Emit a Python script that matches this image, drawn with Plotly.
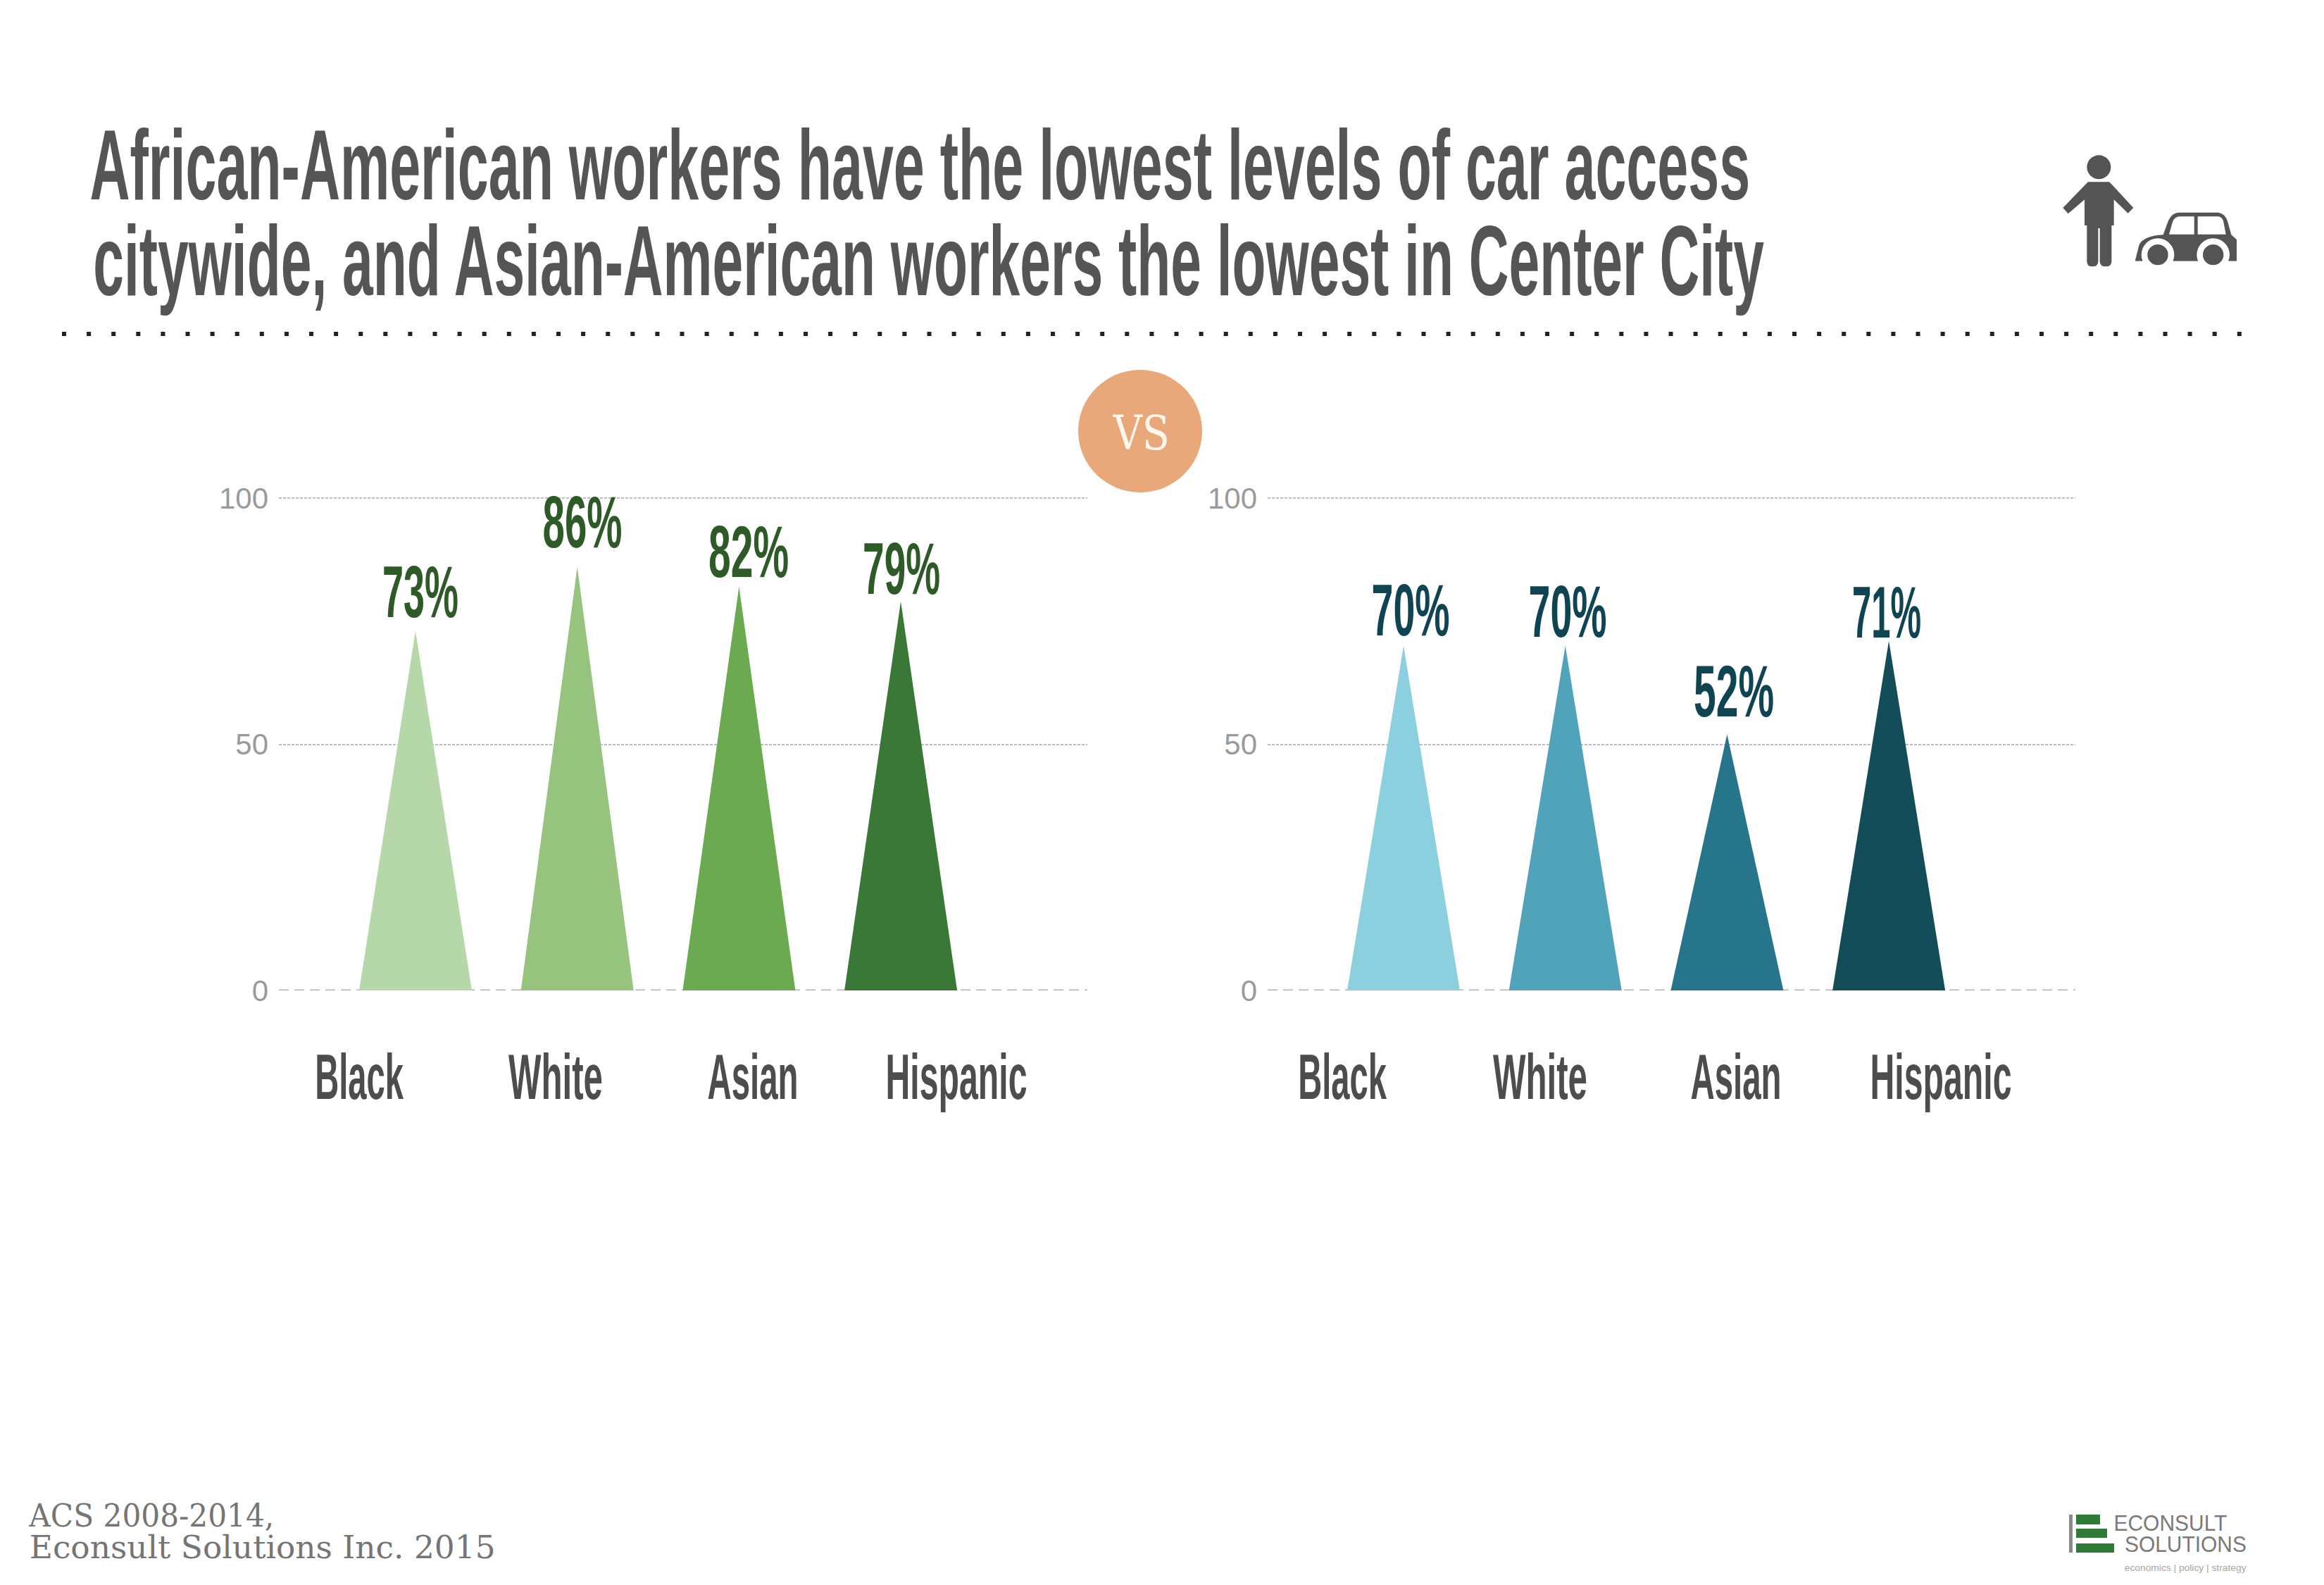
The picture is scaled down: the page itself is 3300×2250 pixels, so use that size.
import json
import plotly.graph_objects as go

W, H = 3300, 2250
categories = ["Black", "White", "Asian", "Hispanic"]
citywide = [73, 86, 82, 79]
center_city = [70, 70, 52, 71]
y_ticks = [0, 50, 100]
green_fills = ["#B6D7A8", "#96C47F", "#6BAA50", "#3A7837"]
teal_fills = ["#8CD0E0", "#50A3B8", "#26758A", "#134D59"]
green_text = "#2E5A27"
teal_text = "#0F4552"
title_lines = ["African-American workers have the lowest levels of car access",
               "citywide, and Asian-American workers the lowest in Center City"]
source_lines = ["ACS 2008-2014,", "Econsult Solutions Inc. 2015"]

# layout in reference pixels
SLOT = 229.7
BAR_W = 160 / SLOT
Y0, Y100 = 1406, 707
YMAX = 102
TOP_DOM = 1 - (Y0 - (Y0 - Y100) * YMAX / 100) / H
BOT_DOM = 1 - Y0 / H
panels = [
    dict(x0=396, x1=1544, c0=590, fills=green_fills, vals=citywide, color=green_text, ax="", lab=[510, 789, 1069, 1358],
         dx=[7, 7, 14, 1], gap=[20, 28, 14, 11]),
    dict(x0=1800, x1=2947, c0=1993, fills=teal_fills, vals=center_city, color=teal_text, ax="2", lab=[1906, 2187, 2465, 2756],
         dx=[10, 3, 10, -3], gap=[15, 13, 26, 5]),
]
NARROW = "Liberation Sans Narrow, Liberation Sans, Arial"
LABEL_SIZE = 104

def px(x): return x / W
def py(y): return 1 - y / H

fig = go.Figure()
annots, shapes = [], []

for p in panels:
    xa, ya = "x" + p["ax"], "y" + p["ax"]
    for i, (cat, v, col) in enumerate(zip(categories, p["vals"], p["fills"])):
        fig.add_trace(go.Scatter(x=[i - BAR_W / 2, i, i + BAR_W / 2], y=[0, v, 0], mode="lines", fill="toself",
                                 fillcolor=col, line=dict(width=0), name=cat, hoverinfo="skip",
                                 showlegend=False, xaxis=xa, yaxis=ya))
        annots.append(dict(x=i, y=v, xref=xa, yref=ya, text=f"{v}%", showarrow=False, xanchor="center", yanchor="bottom",
                           xshift=p["dx"][i], yshift=p["gap"][i] - 24,
                           font=dict(family=NARROW, size=LABEL_SIZE, color=p["color"], weight="bold")))
    rng = [(p["x0"] - p["c0"]) / SLOT, (p["x1"] - p["c0"]) / SLOT]
    xaxis = dict(domain=[px(p["x0"]), px(p["x1"])], range=rng, anchor=ya, showgrid=False, zeroline=False, showline=False, automargin=False,
                 tickmode="array", tickvals=[(q - p["c0"]) / SLOT for q in p["lab"]], ticktext=categories, ticks="", tickangle=0,
                 ticklabelstandoff=62, tickfont=dict(family=NARROW, size=91, color="#4D4D4D", weight="bold"), fixedrange=True)
    yaxis = dict(domain=[BOT_DOM, TOP_DOM], range=[0, YMAX], anchor=xa, showgrid=False, zeroline=False, showline=False, automargin=False,
                 tickmode="array", tickvals=y_ticks, ticks="", ticklabelstandoff=14,
                 minor=dict(tickmode="array", tickvals=[50, 100], showgrid=True, gridcolor="#BDBDBD", gridwidth=2, griddash="4px,2px", ticks=""),
                 tickfont=dict(family="Liberation Sans", size=42, color="#9A9A9A"), fixedrange=True)
    fig.update_layout({"xaxis" + p["ax"]: xaxis, "yaxis" + p["ax"]: yaxis})
    shapes.append(dict(type="line", xref=xa + " domain", yref=ya, x0=0, x1=1, y0=0, y1=0, layer="below",
                       line=dict(color="#B5B5B5", width=3, dash="14px,8px")))

# title lines, rule, VS badge
for t, xc, yc in zip(title_lines, [1306, 1318], [234, 370]):
    annots.append(dict(x=px(xc), y=py(yc), xref="paper", yref="paper", text=t, showarrow=False, xanchor="center", yanchor="middle",
                       font=dict(family=NARROW, size=141, color="#555555", weight="bold")))
shapes.append(dict(type="line", xref="paper", yref="paper", x0=px(88), x1=px(3198), y0=py(474), y1=py(474),
                   line=dict(color="#222222", width=6, dash="6px,29.1px")))
shapes.append(dict(type="circle", xref="paper", yref="paper", x0=px(1531), x1=px(1707), y0=py(525), y1=py(699),
                   fillcolor="#E9A87A", line=dict(width=0)))
annots.append(dict(x=px(1620), y=py(614), xref="paper", yref="paper", text="VS", showarrow=False, xanchor="center", yanchor="middle",
                   font=dict(family="DejaVu Serif", size=68, color="#FFF6EE")))

# source
for t, xc, yc in zip(source_lines, [215, 372], [2151, 2196]):
    annots.append(dict(x=px(xc), y=py(yc), xref="paper", yref="paper", text=t, showarrow=False, xanchor="center", yanchor="middle",
                       font=dict(family="DejaVu Serif", size=45, color="#757575")))

# person and car icon, drawn in the zoom frame of the reference
def zp(x, y): return f"{px(2800 + x / 3):.5f},{py(180 + y / 3):.5f}"
def path(cmds):
    out = ""
    for c in cmds:
        if isinstance(c, str):
            out += c + " "
        else:
            out += zp(*c) + " "
    return out
def zcircle(cx, cy, r, col):
    shapes.append(dict(type="circle", xref="paper", yref="paper", x0=px(2800 + (cx - r) / 3), x1=px(2800 + (cx + r) / 3),
                       y0=py(180 + (cy + r) / 3), y1=py(180 + (cy - r) / 3), fillcolor=col, line=dict(width=0)))
def zpath(cmds, col):
    shapes.append(dict(type="path", xref="paper", yref="paper", path=path(cmds), fillcolor=col, line=dict(width=0)))

ICON = "#545454"
zcircle(541, 172, 51, ICON)
zpath(["M", (495, 235), "L", (585, 235), "L", (600, 250), "L", (688, 345), "L", (665, 368), "L", (605, 310), "L", (605, 420), "L", (595, 420),
       "L", (595, 572), "Q", (595, 595), (570, 595), "Q", (545, 595), (545, 572), "L", (545, 432), "L", (538, 432), "L", (538, 572),
       "Q", (538, 595), (513, 595), "Q", (490, 595), (490, 572), "L", (490, 420), "L", (480, 420), "L", (480, 310), "L", (410, 370), "L", (388, 345), "L", (480, 250), "Z"], ICON)
zpath(["M", (695, 572), "L", (712, 505), "Q", (725, 465), (815, 460), "L", (835, 405), "Q", (850, 365), (885, 365), "L", (1050, 365),
       "Q", (1080, 370), (1090, 405), "L", (1105, 460), "L", (1128, 480), "L", (1128, 572), "Z"], ICON)
zcircle(792, 545, 70, "#FFFFFF")
zcircle(1028, 545, 70, "#FFFFFF")
shapes.append(dict(type="rect", xref="paper", yref="paper", x0=px(2800 + 690 / 3), x1=px(2800 + 1135 / 3), y0=py(180 + 620 / 3), y1=py(180 + 572 / 3),
                   fillcolor="#FFFFFF", line=dict(width=0)))
zcircle(792, 545, 44, ICON)
zcircle(1028, 545, 44, ICON)
zpath(["M", (840, 458), "L", (855, 405), "Q", (865, 382), (885, 382), "L", (947, 382), "L", (947, 458), "Z"], "#FFFFFF")
zpath(["M", (962, 382), "L", (1050, 382), "Q", (1068, 385), (1072, 405), "L", (1082, 458), "L", (962, 458), "Z"], "#FFFFFF")

# logo
LG = "#2F7A36"
for x0, x1, y0, y1, c in [(2938, 2943, 2150, 2204, "#8A8A8A"), (2948, 2982, 2150, 2164, LG), (2948, 2992, 2170, 2183, LG), (2948, 3002, 2191, 2204, LG)]:
    shapes.append(dict(type="rect", xref="paper", yref="paper", x0=px(x0), x1=px(x1), y0=py(y1), y1=py(y0), fillcolor=c, line=dict(width=0)))
for t, xc, yc, sz, c in [("ECONSULT", 3082, 2162, 32, "#7A7A7A"), ("SOLUTIONS", 3103, 2192, 32, "#7A7A7A"), ("economics | policy | strategy", 3103, 2226, 12, "#A5A5A5")]:
    annots.append(dict(x=px(xc), y=py(yc), xref="paper", yref="paper", text=t, showarrow=False, xanchor="center", yanchor="middle",
                       font=dict(family="Liberation Sans", size=sz, color=c)))

fig.update_layout(template="none", width=W, height=H, margin=dict(l=0, r=0, t=0, b=0), paper_bgcolor="#FFFFFF", plot_bgcolor="rgba(0,0,0,0)",
                  showlegend=False, annotations=annots, shapes=shapes, hovermode=False)

# condensed display face: fit each glyph run to its measured width
widths = {title_lines[0]: 2358, title_lines[1]: 2373, "Black": 126, "White": 134, "Asian": 129, "Hispanic": 201,
          "73%": 108, "86%": 113, "82%": 114, "79%": 110, "70%": 111, "52%": 114, "71%": 98, "VS": 81,
          source_lines[0]: 349, source_lines[1]: 662, "ECONSULT": 161, "SOLUTIONS": 173, "economics | policy | strategy": 173}
post = """
document.body.style.margin = '0';
var w = %s;
var gd = document.getElementsByClassName('plotly-graph-div')[0];
gd.querySelectorAll('text').forEach(function(t){
  var s = t.textContent;
  if (!w[s]) return;
  var b = t.getBBox();
  var k = w[s] / b.width, cx = b.x + b.width / 2;
  var old = t.getAttribute('transform') || '';
  t.setAttribute('transform', old + ' translate(' + cx + ' 0) scale(' + k + ' 1) translate(' + (-cx) + ' 0)');
});
""" % json.dumps(widths)
fig.write_html("out.html", post_script=post, config={"displayModeBar": False})
